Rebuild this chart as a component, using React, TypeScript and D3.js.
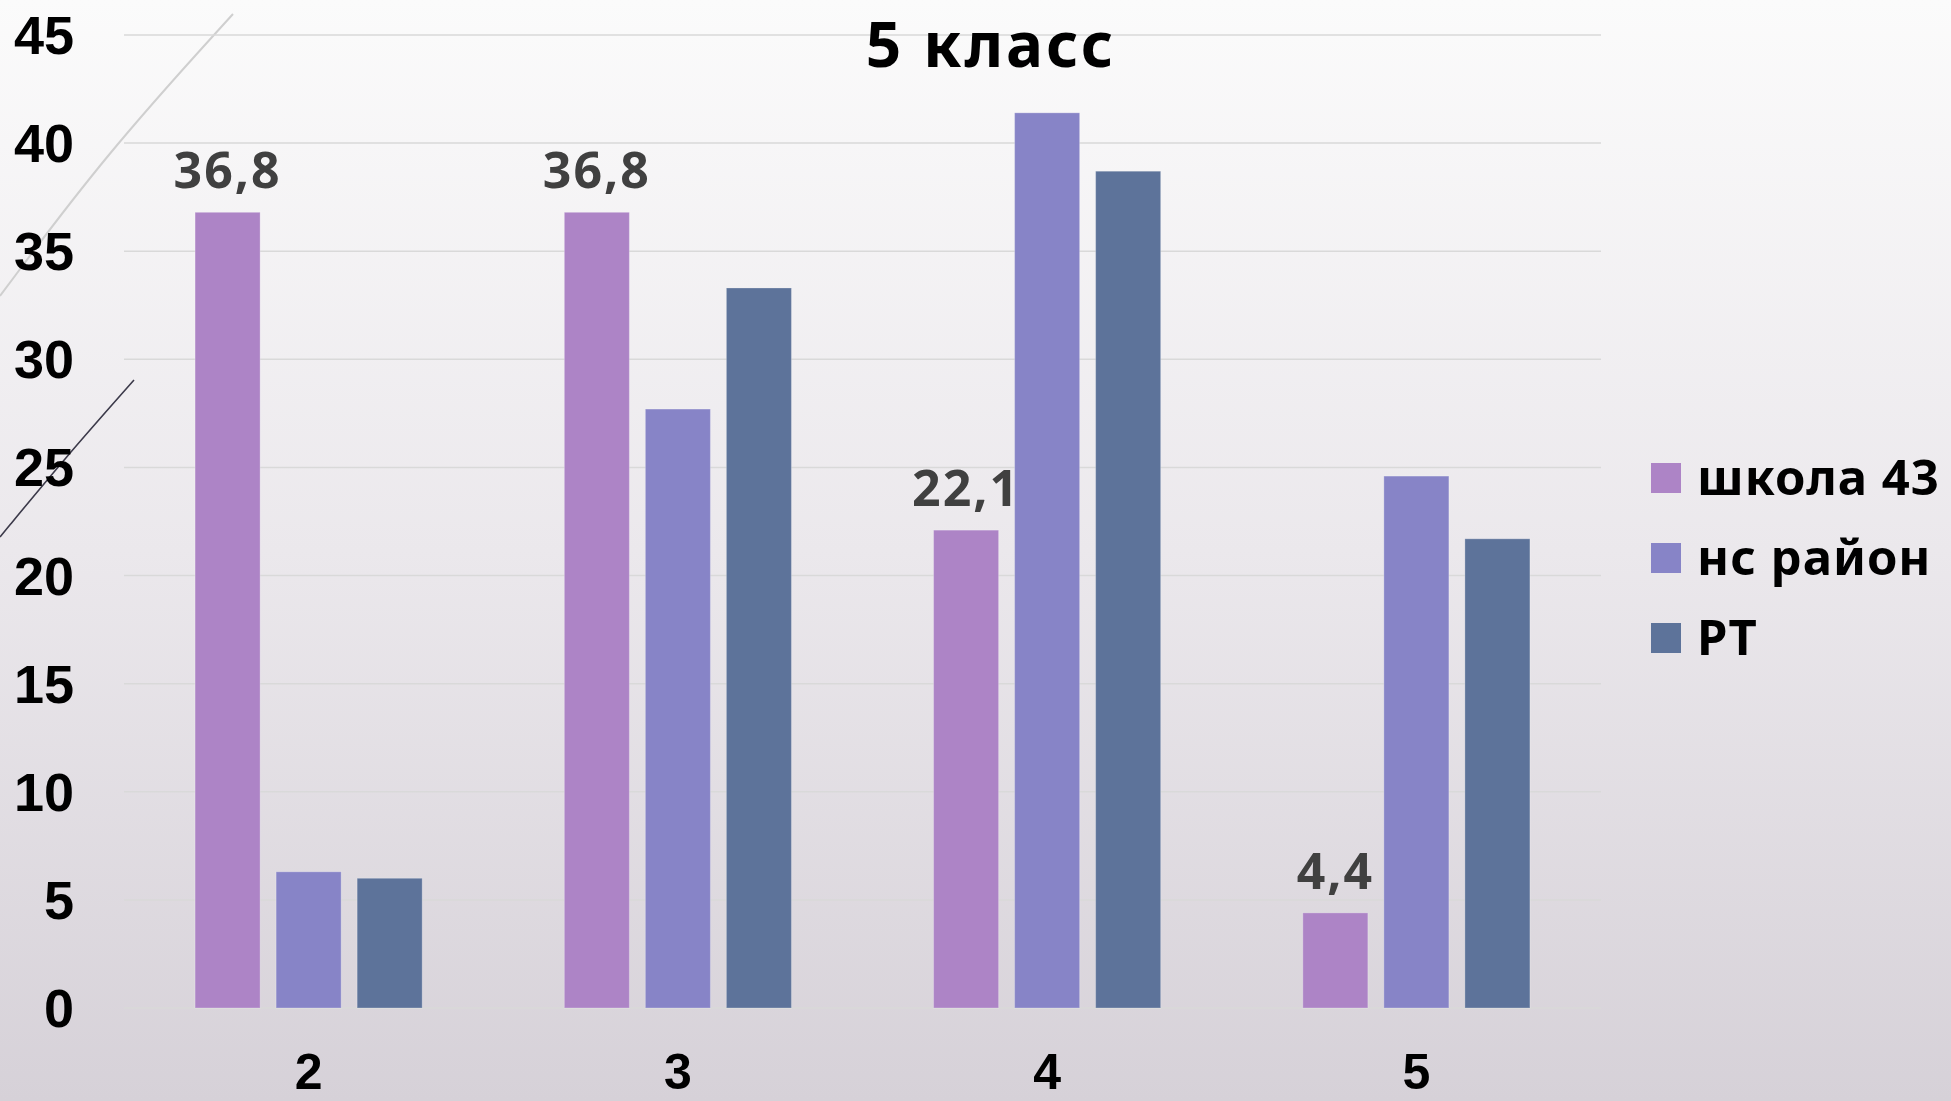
import React from "react";
import * as d3 from "d3";

const categories = ["2", "3", "4", "5"];
const seriesNames = ["школа 43", "нс район", "РТ"];
const school43 = [36.8, 36.8, 22.1, 4.4];
const district = [6.3, 27.7, 41.4, 24.6];
const republic = [6.0, 33.3, 38.7, 21.7];
const seriesColors = ["#ad84c6", "#8784c7", "#5d739a"];
const yTicks = [0, 5, 10, 15, 20, 25, 30, 35, 40, 45];
const title = "5 класс";

const W = 1951;
const H = 1101;
const FONT = "'Noto Sans', 'Open Sans', sans-serif";
const AXIS_FONT = "'Liberation Sans', Arial, sans-serif";

export default function App() {
  const seriesValues = [school43, district, republic];
  const x0 = d3
    .scaleBand<string>()
    .domain(categories)
    .range([124, 1601])
    .paddingInner(0.385)
    .paddingOuter(0.1925);
  const x1 = d3
    .scaleBand<string>()
    .domain(seriesNames)
    .range([0, x0.bandwidth()])
    .paddingInner(16 / 81)
    .paddingOuter(0);
  const y = d3.scaleLinear().domain([0, 45]).range([1008, 35]);

  const lightCurve = d3.line().curve(d3.curveBasis)([
    [0, 296],
    [105, 155],
    [233, 14],
  ]);
  const darkCurve = d3.line().curve(d3.curveBasis)([
    [0, 537],
    [65, 458],
    [134, 380],
  ]);

  return (
    <div style={{ position: "absolute", left: 0, top: 0, width: W, height: H }}>
      <svg width={W} height={H} style={{ display: "block" }}>
        <defs>
          <linearGradient id="bg" x1="0" y1="0" x2="0" y2="1">
            <stop offset="0" stopColor="#fbfbfb" />
            <stop offset="0.5" stopColor="#ebe8ec" />
            <stop offset="1" stopColor="#d6d1d8" />
          </linearGradient>
        </defs>
        <rect x={0} y={0} width={W} height={H} fill="url(#bg)" />
        <path d={lightCurve || ""} fill="none" stroke="#cfcfcf" strokeWidth={2} />
        <path d={darkCurve || ""} fill="none" stroke="#3c3a4a" strokeWidth={1.6} />

        {yTicks.map((t) => (
          <g key={t}>
            <line x1={124} x2={1601} y1={y(t)} y2={y(t)} stroke="#d9d9d9" strokeWidth={1.5} />
            <text
              x={74}
              y={y(t)}
              textAnchor="end"
              dominantBaseline="central"
              fontFamily={AXIS_FONT}
              fontWeight="bold"
              fontSize={54}
              fill="#000"
            >
              {t}
            </text>
          </g>
        ))}

        {categories.map((c, ci) => (
          <g key={c} transform={`translate(${x0(c)},0)`}>
            {seriesNames.map((s, si) => {
              const v = seriesValues[si][ci];
              return (
                <rect
                  key={s}
                  x={x1(s)}
                  y={y(v)}
                  width={x1.bandwidth()}
                  height={y(0) - y(v)}
                  fill={seriesColors[si]}
                  stroke="#ffffff"
                  strokeOpacity={0.25}
                  strokeWidth={1}
                />
              );
            })}
            <text
              x={(x1(seriesNames[0]) || 0) + x1.bandwidth() / 2}
              y={y(school43[ci]) - 24}
              textAnchor="middle"
              fontFamily={FONT}
              fontWeight="bold"
              fontSize={50}
              letterSpacing={2}
              fill="#404040"
            >
              {String(school43[ci]).replace(".", ",")}
            </text>
            <text
              x={x0.bandwidth() / 2}
              y={1089}
              textAnchor="middle"
              fontFamily={AXIS_FONT}
              fontWeight="bold"
              fontSize={50}
              fill="#000"
            >
              {c}
            </text>
          </g>
        ))}

        <text
          x={991}
          y={67}
          textAnchor="middle"
          fontFamily={FONT}
          fontWeight="bold"
          fontSize={62}
          letterSpacing={3}
          fill="#000"
        >
          {title}
        </text>

        {seriesNames.map((s, si) => (
          <g key={s} transform={`translate(1651,${463 + si * 80})`}>
            <rect x={0} y={0} width={30} height={30} fill={seriesColors[si]} />
            <text
              x={46}
              y={32}
              fontFamily={FONT}
              fontWeight="bold"
              fontSize={49}
              letterSpacing={1}
              fill="#000"
            >
              {s}
            </text>
          </g>
        ))}
      </svg>
    </div>
  );
}
